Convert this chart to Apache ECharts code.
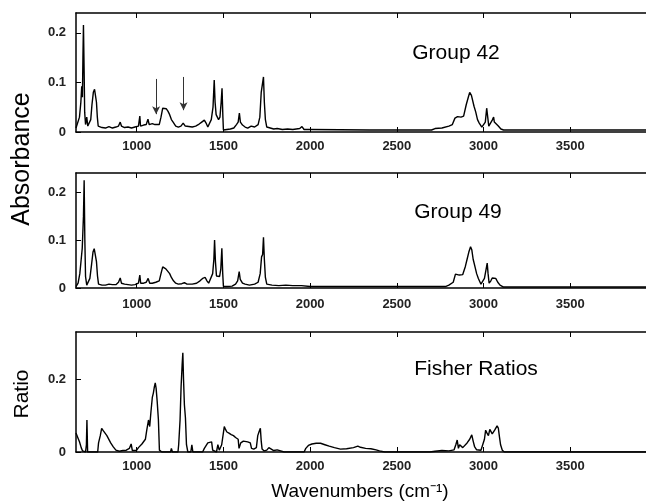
<!DOCTYPE html>
<html><head><meta charset="utf-8">
<script src="https://cdn.jsdelivr.net/npm/echarts@6/dist/echarts.min.js"></script>
<style>html,body{margin:0;padding:0;background:#fff;overflow:hidden}#c{width:646px;height:504px}</style>
</head><body><div id="c"></div>
<script>
// ---- Data ----
const xTicks = [1000, 1500, 2000, 2500, 3000, 3500];
const absTicks = [0, 0.1, 0.2];
const ratioTicks = [0, 0.2];
const panelLabels = ['Group 42', 'Group 49', 'Fisher Ratios'];
const yNames = ['Absorbance', 'Ratio'];
const xName = 'Wavenumbers (cm\u207B\u00B9)';

const g42x = [650,660,670,678,683,687,690,693,697,700,705,712,718,725,735,742,750,757,763,768,773,778,785,800,820,840,860,880,895,905,912,930,950,970,990,1010,1018,1022,1040,1055,1065,1072,1090,1105,1115,1130,1140,1150,1160,1170,1180,1190,1200,1210,1225,1240,1255,1268,1280,1300,1320,1340,1360,1375,1390,1400,1410,1420,1430,1440,1447,1452,1458,1465,1472,1480,1487,1492,1497,1500,1520,1540,1560,1575,1585,1592,1598,1610,1625,1640,1660,1680,1700,1710,1718,1724,1731,1736,1742,1750,1770,1790,1810,1840,1870,1900,1940,1953,1965,2000,2340,2347,2355,2700,2720,2760,2800,2820,2835,2850,2870,2885,2900,2912,2920,2930,2937,2945,2955,2965,2975,2990,3000,3010,3018,3024,3030,3040,3050,3058,3062,3072,3085,3100,3115,3450,3455,3460,3850,3855,3860,4000];
const g42y = [0.008,0.010,0.030,0.060,0.092,0.070,0.150,0.216,0.120,0.040,0.015,0.030,0.012,0.010,0.025,0.055,0.080,0.086,0.082,0.060,0.030,0.012,0.008,0.009,0.008,0.011,0.008,0.010,0.012,0.020,0.012,0.009,0.010,0.008,0.010,0.012,0.032,0.012,0.014,0.015,0.026,0.015,0.017,0.015,0.018,0.015,0.030,0.048,0.052,0.047,0.042,0.035,0.025,0.020,0.012,0.010,0.012,0.018,0.012,0.011,0.010,0.012,0.016,0.020,0.024,0.018,0.010,0.012,0.025,0.050,0.105,0.060,0.035,0.030,0.025,0.030,0.060,0.088,0.030,0.004,0.005,0.006,0.008,0.015,0.020,0.038,0.020,0.014,0.010,0.008,0.012,0.010,0.015,0.030,0.080,0.078,0.111,0.060,0.025,0.010,0.008,0.006,0.007,0.005,0.006,0.005,0.007,0.011,0.005,0.005,0.004,0.007,0.004,0.004,0.007,0.008,0.012,0.015,0.028,0.031,0.030,0.032,0.055,0.070,0.080,0.074,0.070,0.052,0.040,0.025,0.018,0.010,0.008,0.020,0.048,0.030,0.012,0.015,0.024,0.030,0.020,0.018,0.012,0.006,0.004,0.004,0.006,0.004,0.004,0.006,0.004,0.004];

const g49x = [650,662,672,680,686,690,693,697,701,705,712,720,730,740,748,755,762,768,774,780,800,820,840,850,860,880,895,905,912,930,950,970,990,1010,1018,1023,1040,1055,1066,1075,1090,1110,1130,1140,1150,1158,1168,1178,1190,1200,1212,1225,1240,1260,1275,1290,1320,1345,1365,1380,1395,1405,1415,1425,1438,1445,1449,1454,1460,1468,1478,1485,1491,1496,1500,1520,1550,1570,1582,1591,1597,1610,1625,1650,1680,1700,1712,1720,1726,1731,1736,1742,1750,1780,1820,1860,1900,1950,2000,2780,2800,2825,2838,2860,2880,2895,2905,2915,2925,2932,2940,2950,2960,2970,2985,2995,3005,3015,3021,3026,3032,3042,3050,3060,3070,3082,3095,3115,3800,3805,3810,4000];
const g49y = [0.003,0.010,0.030,0.060,0.083,0.080,0.150,0.225,0.100,0.024,0.006,0.008,0.020,0.050,0.075,0.082,0.078,0.055,0.025,0.008,0.006,0.006,0.008,0.011,0.007,0.007,0.012,0.021,0.010,0.008,0.007,0.006,0.007,0.010,0.027,0.010,0.010,0.012,0.020,0.010,0.010,0.012,0.015,0.030,0.044,0.046,0.040,0.038,0.030,0.022,0.015,0.010,0.008,0.009,0.011,0.008,0.008,0.010,0.015,0.020,0.022,0.015,0.010,0.012,0.030,0.060,0.100,0.055,0.025,0.022,0.024,0.040,0.083,0.030,0.003,0.003,0.004,0.008,0.015,0.034,0.018,0.010,0.008,0.006,0.008,0.012,0.030,0.065,0.070,0.106,0.060,0.022,0.008,0.006,0.005,0.006,0.005,0.005,0.003,0.003,0.006,0.012,0.029,0.027,0.028,0.045,0.060,0.075,0.086,0.080,0.060,0.045,0.030,0.020,0.008,0.004,0.020,0.040,0.052,0.030,0.010,0.015,0.021,0.018,0.020,0.012,0.006,0.002,0.002,0.005,0.002,0.002];

const frx = [650,660,670,680,688,705,710,713,717,775,780,790,798,808,818,828,838,850,865,880,900,920,940,958,968,975,1000,1010,1020,1030,1040,1050,1058,1068,1075,1082,1090,1096,1102,1107,1112,1118,1125,1131,1145,1195,1200,1206,1238,1242,1250,1256,1262,1266,1270,1275,1281,1287,1295,1312,1318,1324,1380,1390,1400,1410,1420,1432,1438,1460,1468,1476,1490,1500,1505,1512,1520,1532,1545,1558,1570,1578,1585,1590,1600,1615,1625,1640,1655,1662,1675,1690,1698,1705,1713,1718,1723,1735,1750,1762,1772,1790,1810,1830,1850,1965,1975,1990,2010,2035,2060,2085,2110,2140,2175,2210,2250,2275,2290,2320,2350,2380,2400,2430,2690,2700,2720,2760,2800,2830,2840,2848,2855,2862,2870,2880,2890,2905,2920,2932,2940,2948,2960,2985,2995,3005,3012,3020,3028,3036,3042,3050,3056,3064,3072,3078,3085,3092,3098,3108,3120,3400,3405,3410,3650,3655,3660,4000];
const fry = [0.052,0.040,0.028,0.012,0.003,0.000,0.020,0.088,0.000,0.000,0.025,0.045,0.065,0.058,0.053,0.045,0.040,0.025,0.014,0.005,0.002,0.004,0.005,0.010,0.022,0.004,0.005,0.012,0.015,0.022,0.025,0.035,0.060,0.088,0.070,0.110,0.150,0.162,0.180,0.190,0.175,0.140,0.090,0.005,0.000,0.000,0.010,0.000,0.000,0.020,0.088,0.180,0.240,0.273,0.200,0.130,0.094,0.020,0.000,0.000,0.020,0.000,0.000,0.010,0.005,0.025,0.030,0.028,0.005,0.000,0.020,0.005,0.020,0.020,0.070,0.062,0.055,0.052,0.048,0.045,0.040,0.042,0.035,0.010,0.025,0.030,0.025,0.028,0.025,0.010,0.008,0.012,0.045,0.055,0.065,0.030,0.008,0.003,0.005,0.012,0.008,0.004,0.006,0.003,0.000,0.000,0.010,0.018,0.022,0.024,0.024,0.020,0.016,0.012,0.008,0.009,0.012,0.016,0.013,0.010,0.009,0.006,0.003,0.000,0.000,0.004,0.002,0.004,0.003,0.006,0.020,0.033,0.010,0.020,0.022,0.012,0.010,0.025,0.035,0.047,0.030,0.015,0.006,0.005,0.020,0.035,0.060,0.052,0.045,0.062,0.065,0.050,0.055,0.060,0.065,0.072,0.066,0.040,0.020,0.005,0.000,0.000,0.003,0.000,0.000,0.003,0.000,0.000];

// annotation arrows in top panel: [wavenumber, top value, tip value]
const arrows = [[1112, 0.107, 0.036], [1270, 0.111, 0.044]];

// ---- Chart ----
const zip = (xs, ys) => xs.map((x, i) => [x, ys[i]]);
const chart = echarts.init(document.getElementById('c'), null, {renderer: 'canvas'});
const FONT = 'Liberation Sans';
const grids = [
  {left: 76, width: 581, top: 13, height: 119, outerBoundsMode: 'none', containLabel: false},
  {left: 76, width: 581, top: 173, height: 115, outerBoundsMode: 'none', containLabel: false},
  {left: 76, width: 581, top: 332, height: 120, outerBoundsMode: 'none', containLabel: false}
];
const axisLine = {show: true, lineStyle: {color: '#000', width: 1.5}};
const xAxes = [], yAxes = [];
grids.forEach((g, i) => {
  xAxes.push({
    type: 'value', gridIndex: i, min: 650, max: 4000, position: 'bottom',
    axisLine, splitLine: {show: false},
    axisTick: {inside: true, length: 5, customValues: xTicks, lineStyle: {color: '#000'}},
    axisLabel: {customValues: xTicks, margin: i === 1 ? 10 : 8, fontSize: 13, fontWeight: 'bold',
      color: '#222', fontFamily: FONT, formatter: v => String(v)}
  });
  xAxes.push({
    type: 'value', gridIndex: i, min: 650, max: 4000, position: 'top',
    axisLine, splitLine: {show: false},
    axisTick: {inside: true, length: 5, customValues: xTicks, lineStyle: {color: '#000'}},
    axisLabel: {show: false}
  });
  const tv = i === 2 ? ratioTicks : absTicks;
  yAxes.push({
    type: 'value', gridIndex: i, min: 0, max: i === 2 ? 0.33 : 0.24,
    axisLine, splitLine: {show: false},
    axisTick: {inside: true, length: 5, customValues: tv, lineStyle: {color: '#000'}},
    axisLabel: {customValues: tv, margin: 10, fontSize: 13, fontWeight: 'bold', color: '#222',
      fontFamily: FONT, formatter: v => v === 0 ? '0' : String(+v.toFixed(2))}
  });
});
const lineSeries = (data, i) => ({
  type: 'line', xAxisIndex: i * 2, yAxisIndex: i, data, showSymbol: false, symbol: 'none',
  lineStyle: {color: '#000', width: 1.4}, silent: true
});
const s1 = lineSeries(zip(g42x, g42y), 0);
s1.markLine = {
  silent: true, symbol: ['none', 'arrow'], symbolSize: [6, 8], label: {show: false},
  lineStyle: {color: '#333', width: 1, type: 'solid'},
  data: arrows.map(a => [{coord: [a[0], a[1]]}, {coord: [a[0], a[2]]}])
};
const textStyle = (t, x, y, size, rot) => ({
  type: 'text', x, y, rotation: rot || 0, silent: true,
  style: {text: t, fontSize: size, fontFamily: FONT, fill: '#000', align: 'center', verticalAlign: 'middle'}
});
chart.setOption({
  animation: false,
  backgroundColor: '#fff',
  grid: grids,
  xAxis: xAxes,
  yAxis: yAxes,
  series: [s1, lineSeries(zip(g49x, g49y), 1), lineSeries(zip(frx, fry), 2)],
  graphic: [
    textStyle(panelLabels[0], 456, 53, 21),
    textStyle(panelLabels[1], 458, 212, 21),
    textStyle(panelLabels[2], 476, 369, 21),
    textStyle(yNames[0], 22, 159, 25, Math.PI / 2),
    textStyle(yNames[1], 22, 394, 21, Math.PI / 2),
    textStyle(xName, 360, 492, 19)
  ]
});
</script></body></html>
